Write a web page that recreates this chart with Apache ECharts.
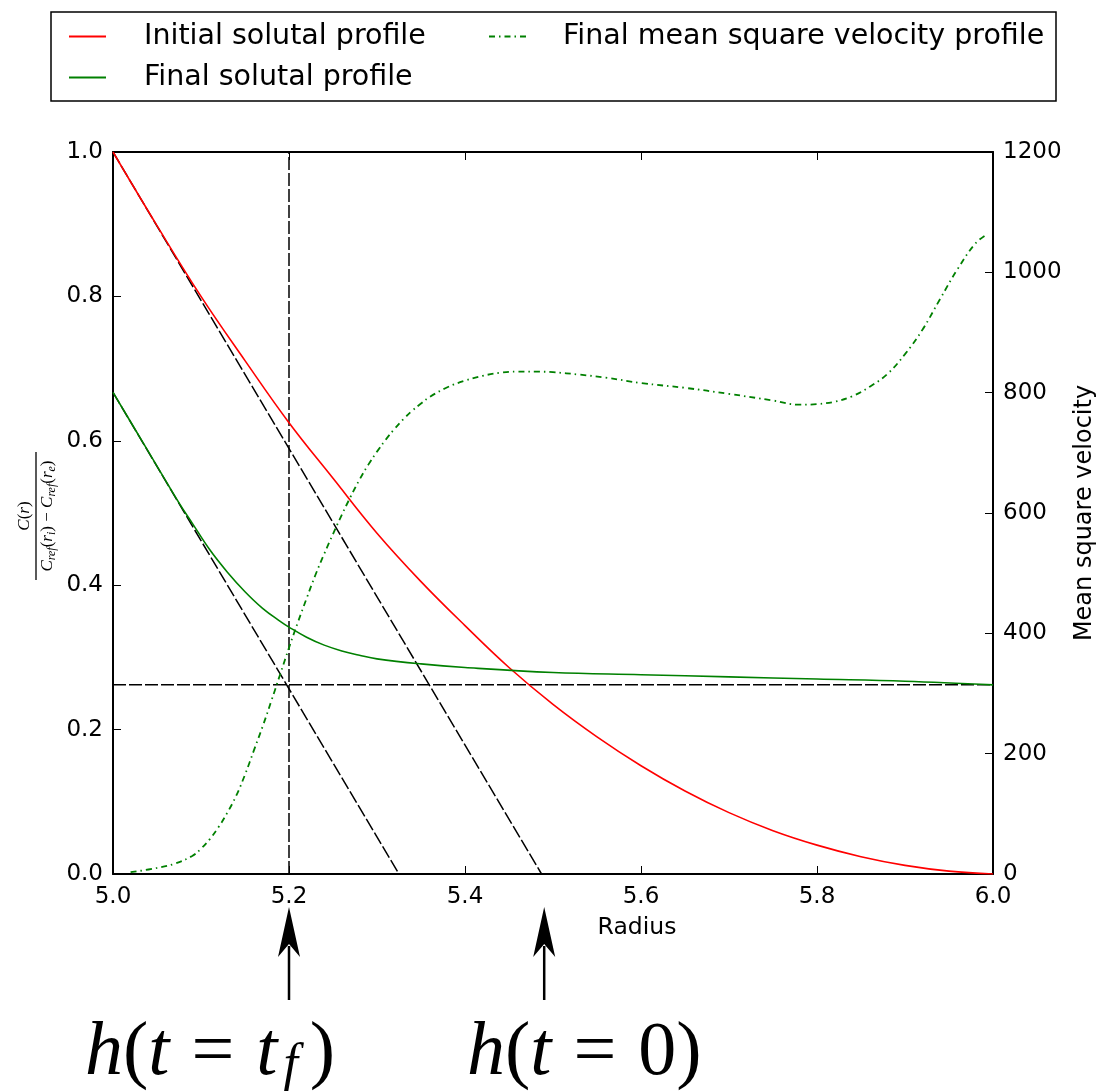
<!DOCTYPE html>
<html>
<head>
<meta charset="utf-8">
<script src="https://cdn.jsdelivr.net/npm/echarts@6/dist/echarts.min.js"></script>
<style>
html,body{margin:0;padding:0;background:#fff;}
#chart{width:1096px;height:1091px;}
</style>
</head>
<body>
<div id="chart"></div>
<script>
// ---- data ----
const radius = [5.0,5.05,5.1,5.15,5.2,5.25,5.3,5.35,5.4,5.45,5.5,5.55,5.6,5.65,5.7,5.75,5.8,5.85,5.9,5.95,6.0];
const initialProfile = [1.0,0.898,0.800,0.711,0.625,0.548,0.472,0.405,0.344,0.286,0.235,0.19,0.15,0.115,0.085,0.06,0.04,0.024,0.012,0.004,0.0];

const radiusFinal = [5.0,5.025,5.05,5.075,5.09,5.11,5.13,5.15,5.17,5.19,5.2,5.22,5.24,5.26,5.28,5.3,5.35,5.4,5.5,5.6,5.7,5.8,5.9,6.0];
const finalProfile = [0.667,0.616,0.565,0.514,0.486,0.449,0.418,0.391,0.368,0.350,0.342,0.328,0.317,0.309,0.303,0.298,0.291,0.286,0.279,0.276,0.273,0.270,0.267,0.262];

const radiusVel = [5.02,5.05,5.07,5.09,5.10,5.11,5.12,5.13,5.14,5.15,5.16,5.17,5.18,5.19,5.2,5.21,5.22,5.23,5.24,5.25,
  5.26,5.27,5.28,5.29,5.3,5.31,5.32,5.33,5.34,5.35,5.36,5.38,5.4,5.42,5.44,5.46,5.48,5.5,5.53,5.56,
  5.6,5.65,5.7,5.75,5.78,5.8,5.82,5.84,5.86,5.88,5.9,5.92,5.94,5.96,5.98,5.994];
const velocity = [3,10,17,30,42,58,78,102,130,165,205,245,288,332,376,418,458,497,532,565,
  597,627,655,680,702,722,740,756,770,782,793,809,820,828,833,835,835,834,830,825,
  816,808,798,787,780,781,785,794,810,831,864,905,956,1006,1048,1064];

// guide lines (radius, normalised concentration)
const tangentInitial = [[5.0,1.0],[5.487,0.0]];
const tangentFinal = [[5.0,0.667],[5.325,0.0]];
const levelLine = [[5.0,0.262],[6.0,0.262]];
const timeLine = [[5.2,0.0],[5.2,1.0]];
const arrowRadii = [5.2, 5.49];

const xTicks = {min:5.0, max:6.0, interval:0.2};
const yTicks = {min:0, max:1.0, interval:0.2};
const y2Ticks = {min:0, max:1200, interval:200};

const zip = (a,b) => a.map((v,i)=>[v,b[i]]);
const FONT = 'DejaVu Sans';

const chart = echarts.init(document.getElementById('chart'));

const guide = (name, data) => ({
  name, type:'line', data, xAxisIndex:0, yAxisIndex:0, showSymbol:false, symbol:'none',
  silent:true, z:3, lineStyle:{color:'#000', width:1.5, type:[13,3]}
});

const axisCommon = {
  axisLine:{show:true, onZero:false, lineStyle:{color:'#000', width:2}},
  axisTick:{show:true, inside:true, length:8, lineStyle:{color:'#000', width:1}},
  splitLine:{show:false}
};
const tickFont = {fontFamily:FONT, fontSize:23, color:'#000'};

const option = {
  animation:false,
  backgroundColor:'#fff',
  grid:{left:113, right:103, top:152, bottom:217, containLabel:false, outerBoundsMode:'none'},
  legend:[
    {data:['Initial solutal profile','Final solutal profile'], orient:'vertical', left:68, top:22,
     itemWidth:37, itemHeight:14, itemGap:12, padding:0, itemStyle:{opacity:0},
     textStyle:{fontFamily:FONT, fontSize:28.5, color:'#000', padding:[0,0,0,33]}},
    {data:['Final mean square velocity profile'], orient:'vertical', left:488, top:22,
     itemWidth:37, itemHeight:14, padding:0, itemStyle:{opacity:0},
     textStyle:{fontFamily:FONT, fontSize:28.5, color:'#000', padding:[0,0,0,32]}}
  ],
  xAxis:[
    Object.assign({type:'value', position:'bottom', ...xTicks,
     axisLabel:Object.assign({margin:12, formatter:v=>v.toFixed(1)}, tickFont),
     name:'Radius', nameLocation:'middle', nameGap:42,
     nameTextStyle:{fontFamily:FONT, fontSize:23.5, color:'#000', padding:[0,0,0,168]}}, axisCommon),
    Object.assign({type:'value', position:'top', ...xTicks, axisLabel:{show:false}}, axisCommon)
  ],
  yAxis:[
    Object.assign({type:'value', position:'left', ...yTicks,
     axisLabel:Object.assign({margin:10, formatter:v=>v.toFixed(1)}, tickFont)}, axisCommon),
    Object.assign({type:'value', position:'right', ...y2Ticks,
     axisLabel:Object.assign({margin:10, formatter:v=>String(v)}, tickFont),
     name:'Mean square velocity', nameLocation:'middle', nameGap:78, nameRotate:90,
     nameTextStyle:{fontFamily:FONT, fontSize:24, color:'#000'}}, axisCommon)
  ],
  series:[
    {name:'Initial solutal profile', type:'line', data:zip(radius, initialProfile), smooth:0.4,
     showSymbol:false, symbol:'none', xAxisIndex:0, yAxisIndex:0, z:4,
     lineStyle:{color:'#ff0000', width:1.6}, itemStyle:{color:'#ff0000'}},
    {name:'Final solutal profile', type:'line', data:zip(radiusFinal, finalProfile), smooth:0.4,
     showSymbol:false, symbol:'none', xAxisIndex:0, yAxisIndex:0, z:4,
     lineStyle:{color:'#008000', width:1.6}, itemStyle:{color:'#008000'}},
    {name:'Final mean square velocity profile', type:'line', data:zip(radiusVel, velocity), smooth:0.4,
     showSymbol:false, symbol:'none', xAxisIndex:0, yAxisIndex:1, z:4,
     lineStyle:{color:'#008000', width:1.8, type:[6,4,1.5,4]}, itemStyle:{color:'#008000'}},
    guide('tangentInitial', tangentInitial),
    guide('tangentFinal', tangentFinal),
    guide('levelLine', levelLine),
    guide('timeLine', timeLine)
  ]
};
chart.setOption(option);

// ---- annotations (legend frame, fraction y-label, arrows, math labels) ----
const FS = 76;
const serifI = {fontFamily:'Liberation Serif', fontStyle:'italic', fontSize:FS, color:'#000'};
const serifR = {fontFamily:'Liberation Serif', fontSize:FS, color:'#000'};
const graphics = [
  {type:'rect', shape:{x:51, y:12, width:1005, height:89}, style:{fill:'none', stroke:'#000', lineWidth:1.5}, z:0},
  {type:'group', x:36, y:516, rotation:Math.PI/2, children:[
    {type:'text', x:0, y:-3, style:{
      text:'{i|C}{r|(}{i|r}{r|)}', align:'center', verticalAlign:'bottom',
      rich:{i:{fontFamily:'Liberation Serif', fontStyle:'italic', fontSize:17, color:'#000'},
            r:{fontFamily:'Liberation Serif', fontSize:17, color:'#000'}}}},
    {type:'line', shape:{x1:-64, y1:0, x2:64, y2:0}, style:{stroke:'#000', lineWidth:1.3}},
    {type:'text', x:0, y:2, style:{
      text:'{i|C}{s|ref}{r|(}{i|r}{s|i}{r|) − }{i|C}{s|ref}{r|(}{i|r}{s|e}{r|)}', align:'center', verticalAlign:'top',
      rich:{i:{fontFamily:'Liberation Serif', fontStyle:'italic', fontSize:17, lineHeight:20, color:'#000'},
            r:{fontFamily:'Liberation Serif', fontSize:17, lineHeight:20, color:'#000'},
            s:{fontFamily:'Liberation Serif', fontStyle:'italic', fontSize:12, lineHeight:12, verticalAlign:'bottom', color:'#000'}}}}
  ]}
];
arrowRadii.forEach(r => {
  const x = chart.convertToPixel({xAxisIndex:0}, r);
  graphics.push({type:'polygon', shape:{points:[[x,907],[x-11,957],[x,944],[x+11,957]]}, style:{fill:'#000'}});
  graphics.push({type:'line', shape:{x1:x, y1:946, x2:x, y2:1000}, style:{stroke:'#000', lineWidth:2.5}});
});
const mathLabel = (left, txt) => ({type:'text', x:left, y:1054, style:{
  text:txt, align:'left', verticalAlign:'middle',
  rich:{i:serifI, r:serifR, eq:Object.assign({}, serifR, {padding:[0,22,0,22]}),
        s:{fontFamily:'Liberation Serif', fontStyle:'italic', fontSize:52, color:'#000', verticalAlign:'bottom', lineHeight:62, padding:[0,12,0,6]}}}});
graphics.push(mathLabel(85, '{i|h}{r|(}{i|t}{eq|=}{i|t}{s|f}{r|)}'));
graphics.push(mathLabel(467, '{i|h}{r|(}{i|t}{eq|=}{r|0)}'));
chart.setOption({graphic:graphics});
</script>
</body>
</html>
